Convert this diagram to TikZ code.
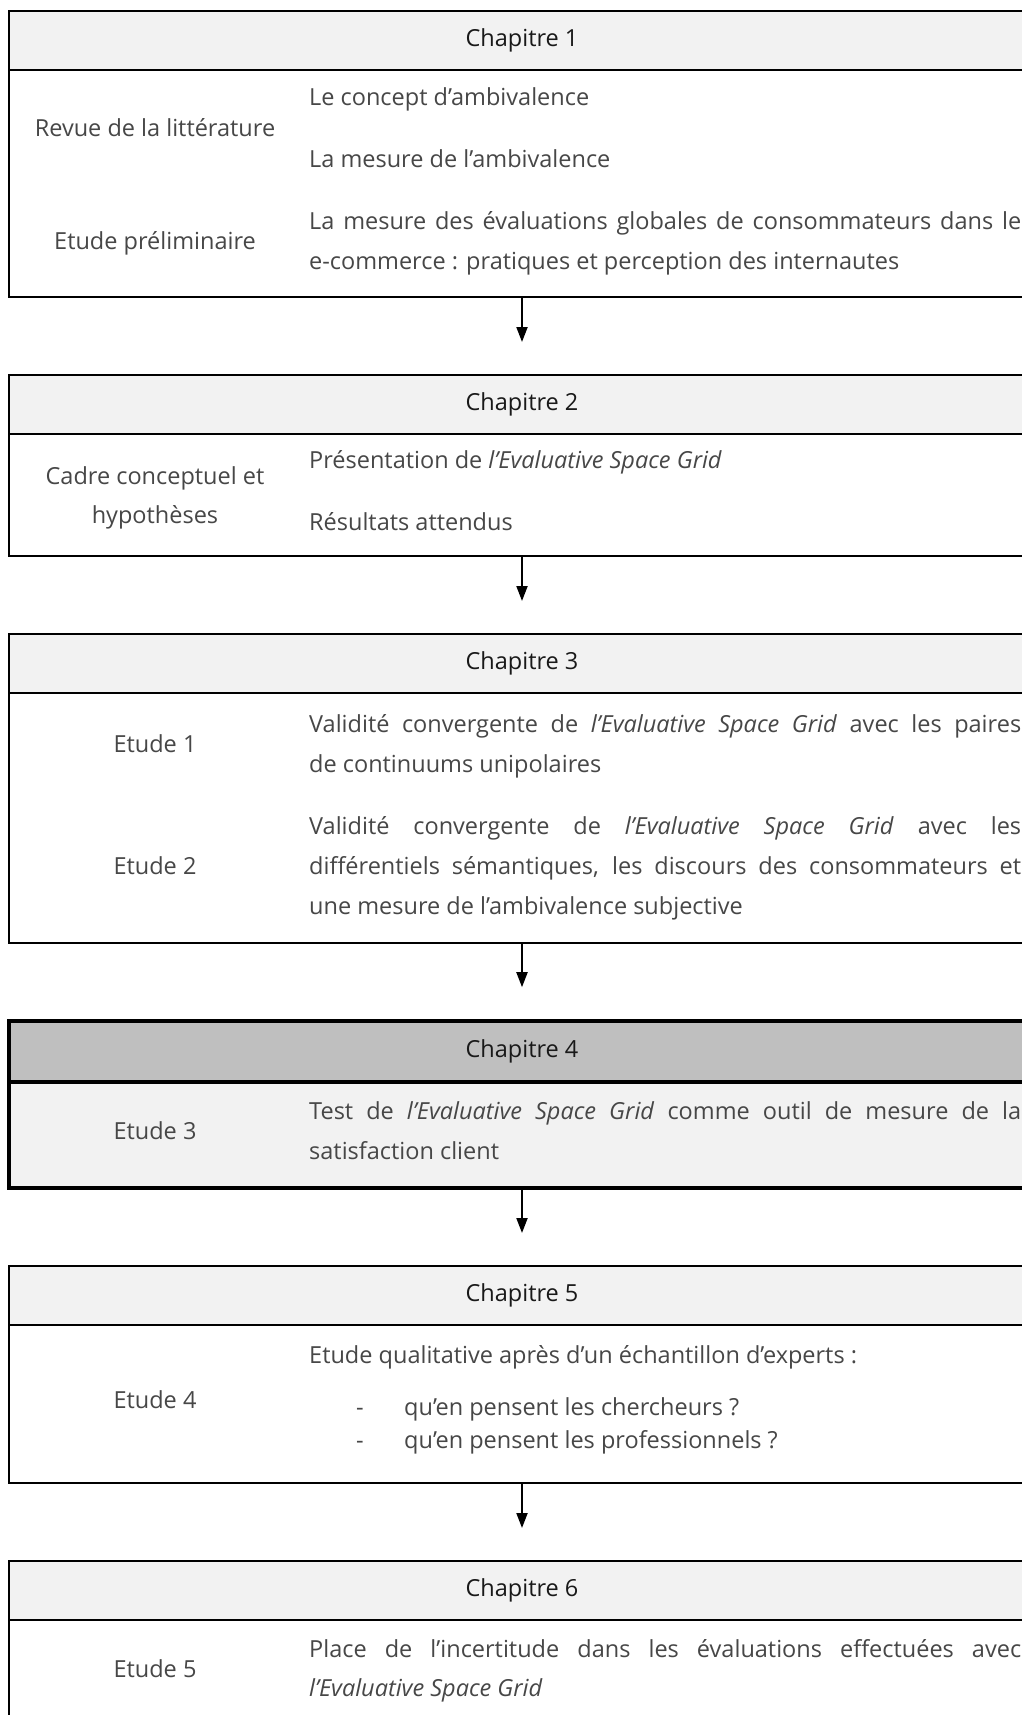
\documentclass[tikz,border=0pt]{standalone}
\usepackage{fontspec}
\setmainfont{Open Sans}
\usetikzlibrary{arrows.meta}
\definecolor{hdr}{HTML}{F2F2F2}
\definecolor{hdrdark}{HTML}{BFBFBF}
\definecolor{txt}{HTML}{474747}
\newcommand{\jl}[1]{\makebox[712pt][s]{#1}}
\begin{document}
\begin{tikzpicture}[x=1pt,y=-1pt,
  font=\fontsize{23.5}{28}\selectfont,
  chapbox/.style={draw, line width=2pt, fill=white, minimum width=1026pt, inner sep=0pt},
  chaphdr/.style={draw, line width=2pt, fill=hdr, minimum width=1026pt, minimum height=59pt, inner sep=0pt, text=black!90},
  rtext/.style={anchor=mid west, inner sep=0pt, text=txt, yshift=-3pt},
  ltext/.style={anchor=mid, inner sep=0pt, text=txt, yshift=-3pt},
  arr/.style={line width=2pt, -{Triangle[length=15pt,width=11pt]}, shorten >=32pt}]
\useasboundingbox (0,0) rectangle (1022,1715);
\clip (0,0) rectangle (1022,1715);

% Box 1
\node[chapbox, minimum height=286pt] (b1) at (522,154) {};
\node[chaphdr] (h1) at (522,40.5) {Chapitre 1};
\node[ltext] (l1a) at (155,131) {Revue de la littérature};
\node[ltext] (l1b) at (155,244) {Etude préliminaire};
\node[rtext] (r1a) at (309,100) {Le concept d’ambivalence};
\node[rtext] (r1b) at (309,162) {La mesure de l’ambivalence};
\node[rtext] (r1c) at (309,224) {\jl{La mesure des évaluations globales de consommateurs dans le}};
\node[rtext] (r1d) at (309,264) {e-commerce : pratiques et perception des internautes};

% Box 2
\node[chapbox, minimum height=181pt] (b2) at (522,465.5) {};
\node[chaphdr] (h2) at (522,404.5) {Chapitre 2};
\node[ltext] (l2a) at (155,479) {Cadre conceptuel et};
\node[ltext] (l2b) at (155,518) {hypothèses};
\node[rtext] (r2a) at (309,463) {Présentation de \textit{l’Evaluative Space Grid}};
\node[rtext] (r2b) at (309,525) {Résultats attendus};

% Box 3
\node[chapbox, minimum height=309pt] (b3) at (522,788.5) {};
\node[chaphdr] (h3) at (522,663.5) {Chapitre 3};
\node[ltext] (l3a) at (155,747) {Etude 1};
\node[ltext] (l3b) at (155,869) {Etude 2};
\node[rtext] (r3a) at (309,727) {\jl{Validité convergente de \textit{l’Evaluative Space Grid} avec les paires}};
\node[rtext] (r3b) at (309,767) {de continuums unipolaires};
\node[rtext] (r3c) at (309,829) {\jl{Validité convergente de \textit{l’Evaluative Space Grid} avec les}};
\node[rtext] (r3d) at (309,869) {\jl{différentiels sémantiques, les discours des consommateurs et}};
\node[rtext] (r3e) at (309,909) {une mesure de l’ambivalence subjective};

% Box 4
\node[chapbox, line width=3.6pt, fill=hdr, minimum height=167pt] (b4) at (522,1104.5) {};
\node[chaphdr, line width=3.6pt, fill=hdrdark, minimum height=61pt] (h4) at (522,1051.5) {Chapitre 4};
\node[ltext] (l4a) at (155,1134) {Etude 3};
\node[rtext] (r4a) at (309,1114) {\jl{Test de \textit{l’Evaluative Space Grid} comme outil de mesure de la}};
\node[rtext] (r4b) at (309,1154) {satisfaction client};

% Box 5
\node[chapbox, minimum height=217pt] (b5) at (522,1374.5) {};
\node[chaphdr] (h5) at (522,1295.5) {Chapitre 5};
\node[ltext] (l5a) at (155,1403) {Etude 4};
\node[rtext] (r5a) at (309,1358) {Etude qualitative après d’un échantillon d’experts :};
\node[rtext] (r5b) at (356,1410) {-};
\node[rtext] (r5c) at (404,1410) {qu’en pensent les chercheurs ?};
\node[rtext] (r5d) at (356,1443) {-};
\node[rtext] (r5e) at (404,1443) {qu’en pensent les professionnels ?};

% Box 6
\node[chapbox, minimum height=200pt] (b6) at (522,1661) {};
\node[chaphdr] (h6) at (522,1590.5) {Chapitre 6};
\node[ltext] (l6a) at (155,1672) {Etude 5};
\node[rtext] (r6a) at (309,1652) {\jl{Place de l'incertitude dans les évaluations effectuées avec}};
\node[rtext] (r6b) at (309,1691) {\textit{l'Evaluative Space Grid}};

% Arrows
\draw[arr] (b1.south) -- (b2.north);
\draw[arr] (b2.south) -- (b3.north);
\draw[arr] (b3.south) -- (b4.north);
\draw[arr] (b4.south) -- (b5.north);
\draw[arr] (b5.south) -- (b6.north);
\end{tikzpicture}
\end{document}
